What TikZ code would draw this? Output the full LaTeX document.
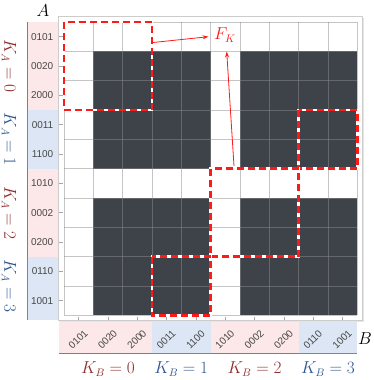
\documentclass[tikz,border=0pt]{standalone}
\usepackage{fontspec}
\newfontfamily\tickfont{Liberation Sans}
\usetikzlibrary{arrows.meta}
\definecolor{darkcell}{HTML}{3E434A}
\definecolor{pinkband}{HTML}{FCE8E8}
\definecolor{blueband}{HTML}{DCE6F4}
\definecolor{redline}{HTML}{E05555}
\definecolor{blueline}{HTML}{6A88B8}
\definecolor{redtext}{HTML}{8E2E2E}
\definecolor{bluetext}{HTML}{2F5591}
\definecolor{dashred}{HTML}{FF1A1A}
\definecolor{ticktext}{HTML}{484848}
\begin{document}
\begin{tikzpicture}[x=1pt,y=-1pt,
  gridline/.style={draw={rgb,1:red,0.55;green,0.55;blue,0.55}, opacity=0.5, line width=0.9},
  frameline/.style={draw=gray!40, line width=1},
  redbox/.style={draw=dashred, line width=2.4, dash pattern=on 7pt off 4pt},
  whitebox/.style={draw=white, line width=2.4},
  redarrow/.style={draw=dashred, line width=0.8, -{Stealth[length=6pt,width=4pt]}},
  ticklab/.style={font=\tickfont\fontsize{10}{11}\selectfont, text=ticktext, inner sep=0pt},
  mathlab/.style={font=\fontsize{16}{19}\selectfont, inner sep=0pt},
  tickmark/.style={draw=gray!70, line width=0.6}]
\useasboundingbox (0,0) rectangle (374,380);
\def\gx{64}\def\gy{22}\def\c{29.33}
% left bands
\fill[pinkband] (27.3,22) rectangle (58.7,109.99);
\fill[blueband] (27.3,109.99) rectangle (58.7,168.65);
\fill[pinkband] (27.3,168.65) rectangle (58.7,256.64);
\fill[blueband] (27.3,256.64) rectangle (58.7,320);
\draw[redline, line width=1] (27.3,22) -- (27.3,109.99);
\draw[blueline, line width=1] (27.3,109.99) -- (27.3,168.65);
\draw[redline, line width=1] (27.3,168.65) -- (27.3,256.64);
\draw[blueline, line width=1] (27.3,256.64) -- (27.3,320);
% bottom bands
\fill[pinkband] (58.7,320) rectangle (151.99,353.5);
\fill[blueband] (151.99,320) rectangle (210.65,353.5);
\fill[pinkband] (210.65,320) rectangle (298.64,353.5);
\fill[blueband] (298.64,320) rectangle (357.3,353.5);
\draw[redline, line width=1] (58.7,353.5) -- (151.99,353.5);
\draw[blueline, line width=1] (151.99,353.5) -- (210.65,353.5);
\draw[redline, line width=1] (210.65,353.5) -- (298.64,353.5);
\draw[blueline, line width=1] (298.64,353.5) -- (357.3,353.5);
% frame
\fill[white] (58.7,16.5) rectangle (362.5,320);
\draw[frameline] (58.7,16.5) rectangle (362.5,320);
\draw[draw=gray!20, line width=1] (363.6,17.5) -- (363.6,321.1) -- (59.7,321.1);
% dark blocks
\fill[darkcell] ({\gx+\c},{\gy+\c}) rectangle ({\gx+5*\c},{\gy+5*\c});
\fill[darkcell] ({\gx+6*\c},{\gy+\c}) rectangle ({\gx+10*\c},{\gy+5*\c});
\fill[darkcell] ({\gx+\c},{\gy+6*\c}) rectangle ({\gx+5*\c},{\gy+10*\c});
\fill[darkcell] ({\gx+6*\c},{\gy+6*\c}) rectangle ({\gx+10*\c},{\gy+10*\c});
% grid
\foreach \i in {0,...,10} {
  \draw[gridline] ({\gx+\i*\c},\gy) -- ({\gx+\i*\c},{\gy+10*\c});
  \draw[gridline] (\gx,{\gy+\i*\c}) -- ({\gx+10*\c},{\gy+\i*\c});
}
% ticks and labels
\foreach \lab [count=\k from 0] in {0101,0020,2000,0011,1100,1010,0002,0200,0110,1001} {
  \draw[tickmark] (58.7,{\gy+(\k+0.5)*\c}) -- (62.7,{\gy+(\k+0.5)*\c});
  \node[ticklab, anchor=east] (r\k) at (53.5,{\gy+(\k+0.5)*\c}) {\lab};
  \draw[tickmark] ({\gx+(\k+0.5)*\c},320) -- ({\gx+(\k+0.5)*\c},316.5);
  \node[ticklab, rotate=45] (c\k) at ({\gx+(\k+0.5)*\c-0.5},339.5) {\lab};
}
% red dashed boxes
\foreach \ra/\rb/\ca/\cb in {0/3/0/3, 3/5/8/10, 5/8/5/8, 8/10/3/5} {
  \draw[whitebox] ({\gx+\ca*\c},{\gy+\ra*\c}) rectangle ({\gx+\cb*\c},{\gy+\rb*\c});
  \draw[redbox] ({\gx+\ca*\c},{\gy+\ra*\c}) rectangle ({\gx+\cb*\c},{\gy+\rb*\c});
}
% F_K and arrows
\node[mathlab, text=dashred] (fk) at (225,35) {$F_K$};
\coordinate (s1) at (153,42.5);
\coordinate (s2) at (234,166);
\draw[redarrow] (s1) -- (208.5,36.7);
\draw[redarrow] (s2) -- (226.7,51.5);
% axis labels
\node[mathlab] (la) at (43,11) {$A$};
\node[mathlab] (lb) at (365,339) {$B$};
\node[mathlab, rotate=-90, text=redtext] (ka0) at (9,66) {$K_A=0$};
\node[mathlab, rotate=-90, text=bluetext] (ka1) at (9,139.3) {$K_A=1$};
\node[mathlab, rotate=-90, text=redtext] (ka2) at (9,212.6) {$K_A=2$};
\node[mathlab, rotate=-90, text=bluetext] (ka3) at (9,285.7) {$K_A=3$};
\node[mathlab, text=redtext] (kb0) at (108,369) {$K_B=0$};
\node[mathlab, text=bluetext] (kb1) at (181.3,369) {$K_B=1$};
\node[mathlab, text=redtext] (kb2) at (254.6,369) {$K_B=2$};
\node[mathlab, text=bluetext] (kb3) at (328,369) {$K_B=3$};
\end{tikzpicture}
\end{document}
